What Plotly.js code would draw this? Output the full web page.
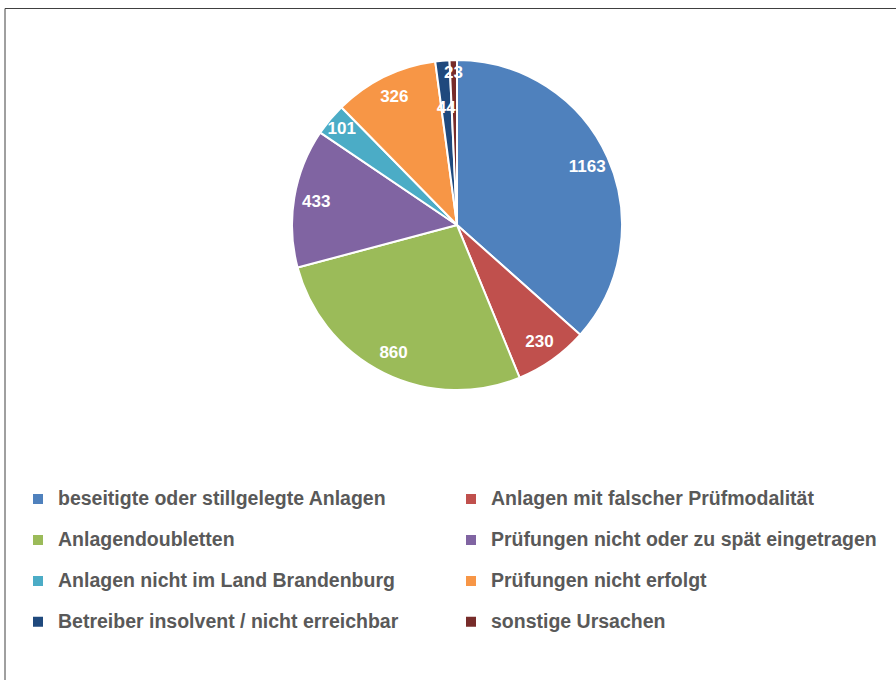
<!DOCTYPE html>
<html>
<head>
<meta charset="utf-8">
<script src="https://cdn.plot.ly/plotly-3.0.1.min.js"></script>
<style>
body { margin: 0; background: #fff; }
#grafik { width: 896px; height: 680px; }
</style>
</head>
<body>
<div id="grafik"></div>
<script>
let kategorien = [
    'beseitigte oder stillgelegte Anlagen',
    'Anlagen mit falscher Prüfmodalität',
    'Anlagendoubletten',
    'Prüfungen nicht oder zu spät eingetragen',
    'Anlagen nicht im Land Brandenburg',
    'Prüfungen nicht erfolgt',
    'Betreiber insolvent / nicht erreichbar',
    'sonstige Ursachen'
];
let werte = [1163, 230, 860, 433, 101, 326, 44, 23];
let farben = ['#4F81BD', '#C0504D', '#9BBB59', '#8064A2', '#4BACC6', '#F79646', '#1F497D', '#772C2A'];
// welche Beschriftung auf welchem Ring: 0 = aussen, 1 = "44", 2 = "23"
let beschriftungsRing = [0, 0, 0, 0, 0, 0, 1, 2];

let schrift = 'Arial, "Liberation Sans", sans-serif';

// Legendentext etwas groesser, zweite Leerzeile fuer den Zeilenabstand
let legendNamen = kategorien.map(k => '<span style="font-size:19.5px">' + k + '</span><br>&nbsp;');

// Tortenmitte und Radius in Pixeln
let mitteX = 457, mitteY = 225, radius = 165;
function bereich(r) {
    return {
        x: [(mitteX - r) / 896, (mitteX + r) / 896],
        y: [1 - (mitteY + r) / 680, 1 - (mitteY - r) / 680]
    };
}

// volle Torte mit Farben und Legende
let torte = {
    type: 'pie',
    labels: legendNamen,
    values: werte,
    sort: false,
    direction: 'clockwise',
    rotation: 0,
    domain: bereich(radius),
    marker: {colors: farben, line: {color: '#ffffff', width: 2}},
    textinfo: 'none',
    hoverinfo: 'label+value'
};

// unsichtbare Torten nur fuer die Beschriftung
function beschriftung(nr, r, loch) {
    return {
        type: 'pie',
        labels: kategorien,
        values: werte,
        sort: false,
        direction: 'clockwise',
        rotation: 0,
        hole: loch,
        domain: bereich(r),
        marker: {colors: werte.map(() => 'rgba(0,0,0,0)'), line: {width: 0}},
        text: werte.map((w, i) => beschriftungsRing[i] === nr ? String(w) : ''),
        textinfo: 'text',
        textposition: 'inside',
        insidetextorientation: 'horizontal',
        textfont: {family: schrift, size: 17, color: '#ffffff', weight: 'bold'},
        showlegend: false,
        hoverinfo: 'skip'
    };
}
let ringAussen = beschriftung(0, radius, 0.73);
let ring44 = beschriftung(1, 123, 0);
let ring23 = beschriftung(2, 156, 0);

let layout = {
    width: 896,
    height: 680,
    margin: {l: 0, r: 0, t: 0, b: 0},
    paper_bgcolor: '#ffffff',
    showlegend: true,
    uniformtext: {minsize: 17, mode: 'show'},
    legend: {
        orientation: 'h',
        x: 18 / 896,
        y: 1 - 483 / 680,
        xanchor: 'left',
        yanchor: 'top',
        entrywidth: 388,
        entrywidthmode: 'pixels',
        valign: 'top',
        traceorder: 'normal',
        font: {family: schrift, size: 14.6, color: '#595959', weight: 'bold'}
    },
    shapes: [{
        type: 'rect',
        xref: 'paper', yref: 'paper',
        x0: 5 / 896, x1: 1.05, y0: -0.05, y1: 1 - 8.5 / 680,
        line: {color: '#404040', width: 1}
    }]
};

Plotly.newPlot(document.getElementById('grafik'), [torte, ringAussen, ring44, ring23], layout, {displayModeBar: false});
</script>
</body>
</html>
